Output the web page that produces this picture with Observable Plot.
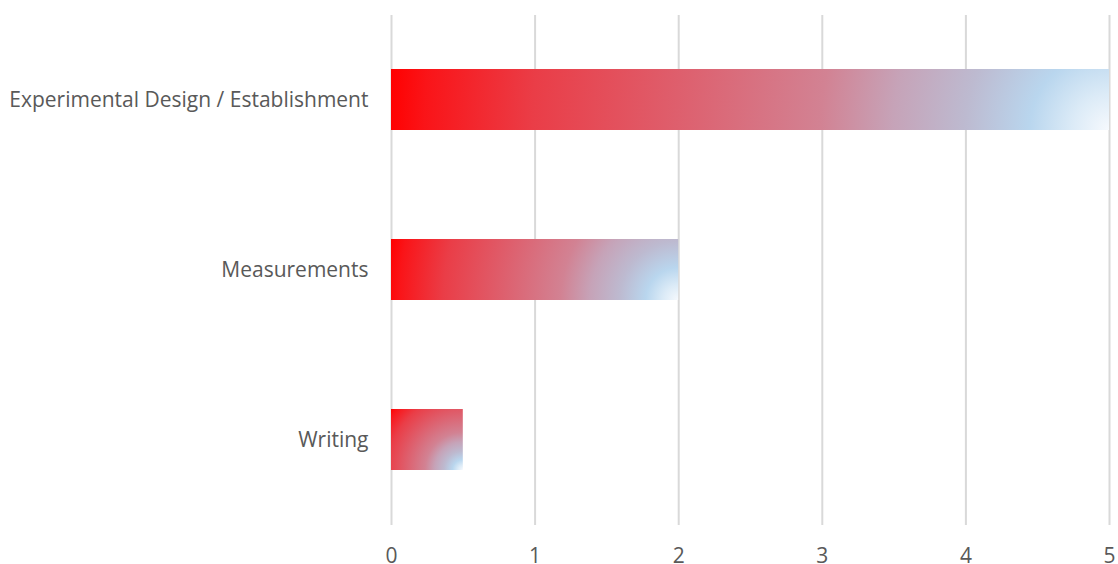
<!DOCTYPE html>
<html>
<head>
<meta charset="utf-8">
<script src="https://cdn.jsdelivr.net/npm/d3@7"></script>
<script src="https://cdn.jsdelivr.net/npm/@observablehq/plot@0.6"></script>
<style>
  html, body { margin: 0; padding: 0; background: #fff; }
  #chart { width: 1118px; height: 564px; }
</style>
</head>
<body>
<div id="chart"></div>
<script>
const categories = ["Experimental Design / Establishment", "Measurements", "Writing"];
const values = [5, 2, 0.5];
const xTicks = [0, 1, 2, 3, 4, 5];

const data = categories.map((c, i) => ({category: c, value: values[i]}));

const plot = Plot.plot({
  width: 1118,
  height: 564,
  marginLeft: 391,
  marginRight: 9,
  marginTop: 15,
  marginBottom: 39,
  style: {fontFamily: "'Open Sans', sans-serif", background: "#fff", color: "#595959"},
  x: {domain: [0, 5], label: null},
  y: {domain: categories, paddingInner: 0.64, paddingOuter: 0.32, label: null},
  marks: [
    Plot.gridX(xTicks, {stroke: "#d9d9d9", strokeOpacity: 1, strokeWidth: 2}),
    Plot.barX(data, {x: "value", y: "category", fill: "#ff0000"}),
    Plot.axisX({ticks: xTicks, tickSize: 0, tickPadding: 23, fontSize: 21, fill: "#595959", label: null, tickFormat: d3.format("d")}),
    Plot.axisY({tickSize: 0, tickPadding: 23, fontSize: 21, fill: "#595959", label: null})
  ]
});

// gradient fill: radial from the bar's bottom-right corner
const stops = [
  [0, "#f6f9fd"], [0.05, "#dcebf7"], [0.11, "#b9d6ee"], [0.2, "#bdbad0"],
  [0.3, "#c6a3b8"], [0.4, "#d28293"], [0.6, "#de5f6d"], [0.8, "#ea3d47"],
  [0.95, "#fa1418"], [1, "#ff0000"]
];
const svg = d3.select(plot);
const defs = svg.insert("defs", ":first-child");
svg.selectAll('g[aria-label="bar"] rect').each(function(d, i) {
  const r = d3.select(this);
  const x = +r.attr("x"), y = +r.attr("y"), w = +r.attr("width"), h = +r.attr("height");
  const id = "barGrad" + i;
  const g = defs.append("radialGradient")
    .attr("id", id)
    .attr("gradientUnits", "userSpaceOnUse")
    .attr("cx", x + w).attr("cy", y + h).attr("fx", x + w).attr("fy", y + h)
    .attr("r", Math.hypot(w, h));
  stops.forEach(([o, c]) => g.append("stop").attr("offset", o).attr("stop-color", c));
  r.attr("fill", `url(#${id})`);
});

document.getElementById("chart").appendChild(plot);
</script>
</body>
</html>
